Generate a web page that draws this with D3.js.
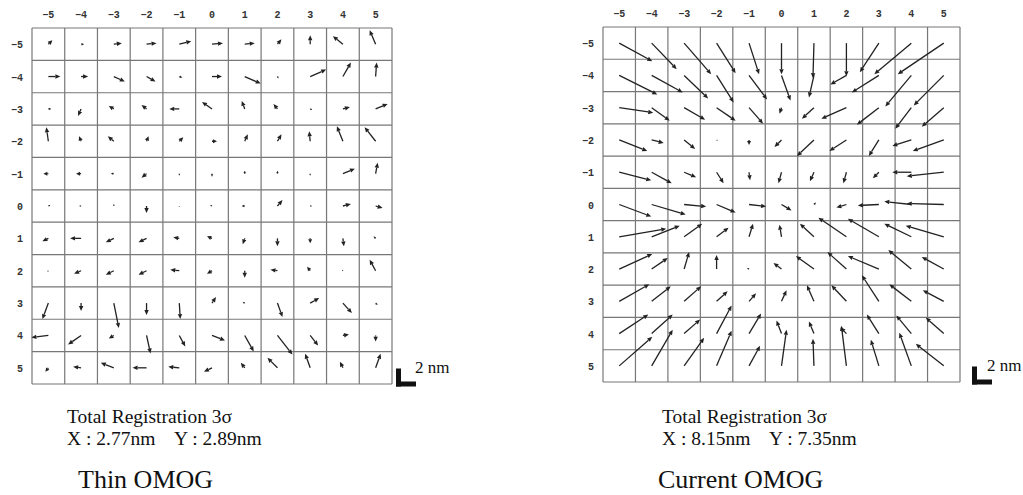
<!DOCTYPE html>
<html>
<head>
<meta charset="utf-8">
<script src="https://cdn.jsdelivr.net/npm/d3@7"></script>
<style>
body { margin: 0; background: #fff; }
</style>
</head>
<body>
<svg id="chart" width="1023" height="495"></svg>
<script>
// grid positions (both axes)
const ticks = [-5, -4, -3, -2, -1, 0, 1, 2, 3, 4, 5];

// Thin OMOG error vectors, nm (row = y tick, col = x tick), y positive downward
const thinX = [
    [0.4, 0.3, 0.8, 1.0, 1.2, 1.1, 1.0, 0.4, 0.0, -1.0, -0.6],
    [1.2, 0.7, 1.1, 0.9, 0.3, 1.0, 1.6, 0.1, 1.6, 0.8, 0.1],
    [0.3, -0.3, -0.5, -0.5, -1.0, -1.0, -0.3, -0.4, 0.2, 0.7, 1.2],
    [-0.2, -0.2, -0.6, 0.2, 0.4, 0.5, 0.3, 0.4, -0.1, -0.6, -1.1],
    [-0.5, -0.5, -0.3, -0.5, 0.0, 0.0, 0.0, 0.0, 0.0, 1.2, 0.2],
    [0.2, -0.2, 0.0, 0.0, 0.0, -0.2, -0.3, 0.5, 0.2, 0.8, 0.7],
    [-0.6, -1.1, -0.8, -0.8, -0.6, -0.5, -0.2, 0.0, 0.0, 0.1, -0.2],
    [-0.1, -0.7, -0.8, -0.8, -0.9, -0.5, 0.0, -0.7, -0.3, -0.1, -0.6],
    [-0.6, 0.0, 0.5, 0.0, 0.1, 0.4, -0.2, 0.5, 0.9, 0.9, 0.2],
    [-1.7, -1.3, -0.5, 0.4, 0.6, 1.3, 0.9, 1.5, 0.8, 0.6, 0.0],
    [-0.3, -0.8, -1.3, -1.4, -1.1, -0.8, -0.4, -1.0, -0.5, -0.3, 0.5]
];
const thinY = [
    [-0.4, 0.0, -0.1, -0.1, -0.3, -0.1, -0.1, -0.5, -0.9, -0.8, -1.4],
    [0.0, 0.0, 0.5, 0.5, 0.1, 0.0, 0.7, 0.2, -0.7, -1.4, -1.4],
    [0.0, 0.7, -0.3, -0.4, 0.0, -0.7, -0.8, -0.5, 0.1, -0.2, -0.5],
    [-1.4, -0.5, -0.5, -0.5, -0.4, 0.0, -0.7, -0.7, -1.0, -1.5, -1.4],
    [0.0, 0.0, 0.0, 0.4, 0.2, 0.3, -0.3, -0.3, 0.2, -0.5, -1.1],
    [-0.1, 0.0, -0.2, 0.7, 0.1, -0.1, 0.0, -0.6, 0.0, -0.2, 0.2],
    [0.3, 0.0, 0.4, 0.4, -0.1, -0.2, 0.6, 0.8, 0.5, 0.8, -0.2],
    [0.1, 0.3, 0.4, 0.4, -0.1, 0.3, 0.7, -0.1, -0.4, -0.1, -1.1],
    [1.6, 0.8, 2.5, 1.2, 1.6, -0.6, -0.1, 1.4, -0.5, 1.0, 0.2],
    [0.2, 0.9, 0.3, 1.8, 1.1, 0.5, 1.6, 1.9, 1.0, -0.1, 0.6],
    [0.4, -0.1, -0.5, 0.0, -0.1, 0.4, -0.5, -1.0, -1.4, -0.6, -1.4]
];

// Current OMOG error vectors, nm
const currentX = [
    [3.3, 2.5, 2.7, 1.9, 1.0, 0.0, -0.1, 0.0, -1.9, -3.7, -4.6],
    [3.8, 3.1, 2.4, 1.7, 1.8, 0.9, -0.5, -1.6, -2.7, -2.6, -3.0],
    [3.4, 1.8, 2.1, 1.9, 1.4, -0.2, -1.2, -2.5, -2.2, -1.6, -2.2],
    [2.8, 1.2, 1.1, 0.1, 0.0, -0.7, -1.7, -1.7, -1.0, -1.9, -3.1],
    [3.2, 2.0, 1.2, 0.7, 0.1, -0.3, -0.4, -0.3, -0.6, -1.9, -3.7],
    [3.2, 3.4, 2.2, 1.9, 1.7, 1.0, 0.2, -1.0, -2.1, -2.7, -3.7],
    [4.7, 2.8, 1.8, 1.2, 0.4, -0.2, -1.4, -2.8, -3.1, -2.7, -3.8],
    [3.3, 1.6, 0.5, 0.0, -0.2, -0.8, -1.8, -1.9, -3.1, -2.3, -2.2],
    [3.0, 1.9, 1.7, 1.1, 0.7, 0.5, -0.7, -1.5, -1.7, -2.2, -2.1],
    [2.9, 2.1, 1.6, 1.5, 1.2, -0.5, -0.5, -0.6, -1.2, -1.5, -1.8],
    [3.3, 2.1, 2.0, 1.5, 1.1, 0.5, -0.1, -0.5, -0.8, -1.2, -2.8]
];
const currentY = [
    [1.8, 2.6, 3.1, 3.0, 3.1, 3.1, 3.5, 3.3, 2.9, 3.1, 3.1],
    [1.9, 1.7, 2.3, 2.7, 2.4, 2.5, 2.2, 0.9, 1.7, 3.1, 3.0],
    [0.5, 1.3, 1.2, 1.3, 1.6, 0.6, 1.1, 1.1, 1.7, 2.1, 1.9],
    [1.1, 0.3, 0.9, 0.1, 0.5, 0.7, 1.6, 1.1, 1.6, 0.6, 1.1],
    [0.8, 1.1, 0.5, 1.1, 0.8, 1.1, 0.9, 1.1, 0.6, 0.0, 0.4],
    [1.2, 1.0, 0.2, 0.8, 0.2, 0.6, -0.2, 0.3, 0.1, -0.3, -0.1],
    [-0.8, -1.1, -1.3, -0.9, -1.3, -1.2, -1.3, -1.9, -1.8, -1.3, -1.1],
    [-1.5, -1.1, -1.7, -1.4, -0.1, -0.6, -1.3, -1.7, -1.3, -1.9, -1.2],
    [-1.7, -1.5, -1.5, -1.0, -0.8, -1.1, -1.6, -1.6, -2.6, -1.7, -1.1],
    [-1.9, -1.9, -1.4, -2.8, -2.0, -1.3, -1.2, -0.6, -1.9, -1.8, -1.6],
    [-2.9, -3.6, -2.8, -3.5, -2.0, -3.6, -2.7, -4.0, -2.6, -3.3, -2.2]
];

const panels = [
    {title: "Thin OMOG", sx: "2.77nm", sy: "2.89nm", u: thinX, v: thinY,
     x0: 32, x1: 392, y0: 28, y1: 384, textX: 67, titleX: 78, barGap: 4, labelGap: 19},
    {title: "Current OMOG", sx: "8.15nm", sy: "7.35nm", u: currentX, v: currentY,
     x0: 603, x1: 960, y0: 27, y1: 382, textX: 662, titleX: 658, barGap: 12, labelGap: 15}
];

const svg = d3.select("#chart");
svg.append("rect").attr("width", 1023).attr("height", 495).attr("fill", "#fff");

// px per nm for arrows and the scale bar
const len = d3.scaleLinear().domain([0, 1]).range([0, 10]);

function drawArrow(g, ax, ay, bx, by) {
    let dx = bx - ax, dy = by - ay;
    let d = Math.sqrt(dx * dx + dy * dy);
    if (d < 0.5) return;
    let ux = dx / d, uy = dy / d;
    let hl = Math.min(5, d * 0.8), hw = Math.min(2.2, hl * 0.5);
    let px = bx - ux * hl, py = by - uy * hl;
    g.append("line")
        .attr("x1", ax).attr("y1", ay)
        .attr("x2", px).attr("y2", py)
        .attr("stroke", "#222").attr("stroke-width", 1.3);
    g.append("path")
        .attr("d", "M" + bx + "," + by +
            "L" + (px - uy * hw) + "," + (py + ux * hw) +
            "L" + (px + uy * hw) + "," + (py - ux * hw) + "Z")
        .attr("fill", "#222");
}

panels.forEach(p => {
    let x = d3.scaleLinear().domain([-5.5, 5.5]).range([p.x0, p.x1]);
    let y = d3.scaleLinear().domain([-5.5, 5.5]).range([p.y0, p.y1]);
    let g = svg.append("g");

    // grid
    let edges = d3.range(-5.5, 6, 1);
    g.selectAll(".vl").data(edges).enter().append("line")
        .attr("x1", d => x(d)).attr("x2", d => x(d))
        .attr("y1", p.y0).attr("y2", p.y1)
        .attr("stroke", "#777").attr("stroke-width", 1.2);
    g.selectAll(".hl").data(edges).enter().append("line")
        .attr("y1", d => y(d)).attr("y2", d => y(d))
        .attr("x1", p.x0).attr("x2", p.x1)
        .attr("stroke", "#777").attr("stroke-width", 1.2);

    // tick labels
    g.selectAll(".xt").data(ticks).enter().append("text")
        .attr("x", d => x(d)).attr("y", p.y0 - 10)
        .attr("text-anchor", "middle")
        .style("font", "bold 10px 'Liberation Mono', monospace").attr("fill", "#333")
        .text(d => d < 0 ? "\u2212" + (-d) : d);
    g.selectAll(".yt").data(ticks).enter().append("text")
        .attr("x", p.x0 - 9).attr("y", d => y(d) + 4)
        .attr("text-anchor", "end")
        .style("font", "bold 10px 'Liberation Mono', monospace").attr("fill", "#333")
        .text(d => d < 0 ? "\u2212" + (-d) : d);

    // vectors, tail at the cell centre
    ticks.forEach((ty, j) => {
        ticks.forEach((tx, i) => {
            let ax = x(tx), ay = y(ty);
            drawArrow(g, ax, ay, ax + len(p.u[j][i]), ay + len(p.v[j][i]));
        });
    });

    // 2 nm scale bar
    let bx = p.x1 + p.barGap, by = p.y1 + 2.5;
    g.append("rect").attr("x", bx).attr("y", by - len(1.8)).attr("width", 5).attr("height", len(1.8)).attr("fill", "#111");
    g.append("rect").attr("x", bx).attr("y", by - 5).attr("width", len(2)).attr("height", 5).attr("fill", "#111");
    g.append("text").attr("x", bx + p.labelGap).attr("y", p.y1 - 11)
        .style("font", "17px 'Liberation Serif', serif").attr("fill", "#111")
        .text("2 nm");

    // captions
    g.append("text").attr("x", p.textX).attr("y", 423)
        .style("font", "19.5px 'Liberation Serif', serif").attr("fill", "#111")
        .text("Total Registration 3\u03c3");
    g.append("text").attr("x", p.textX).attr("y", 445)
        .attr("xml:space", "preserve").style("white-space", "pre")
        .style("font", "19.5px 'Liberation Serif', serif").attr("fill", "#111")
        .text("X : " + p.sx + "    Y : " + p.sy);
    g.append("text").attr("x", p.titleX).attr("y", 488)
        .style("font", "26px 'Liberation Serif', serif").attr("fill", "#111")
        .text(p.title);
});
</script>
</body>
</html>
